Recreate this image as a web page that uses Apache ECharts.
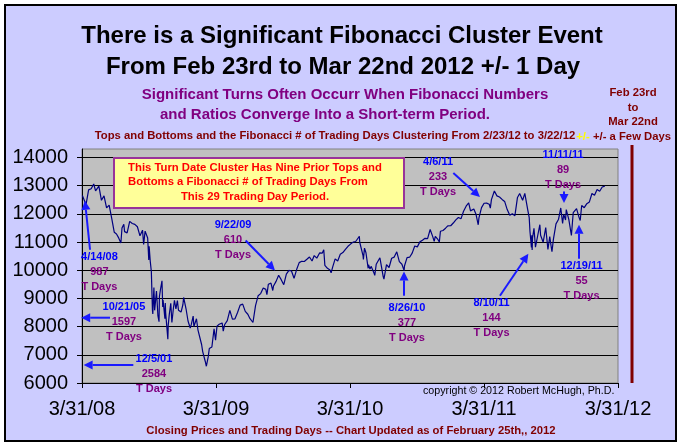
<!DOCTYPE html>
<html><head><meta charset="utf-8">
<script src="https://cdn.jsdelivr.net/npm/echarts@6/dist/echarts.min.js"></script>
<style>html,body{margin:0;padding:0;background:#fff}#c{width:682px;height:447px}</style>
</head><body><div id="c"></div>
<script>
// ---- DATA ----
const dates = [
'2008-04-01','2008-04-04','2008-04-11','2008-04-14','2008-04-18','2008-04-25','2008-05-02','2008-05-07','2008-05-09','2008-05-16','2008-05-19','2008-05-23','2008-05-30','2008-06-06','2008-06-13','2008-06-20','2008-06-27','2008-07-03','2008-07-09','2008-07-11','2008-07-15','2008-07-18','2008-07-23','2008-07-25','2008-08-01','2008-08-08','2008-08-11','2008-08-15','2008-08-22','2008-08-29','2008-09-05','2008-09-12','2008-09-15','2008-09-19','2008-09-26','2008-09-29','2008-09-30','2008-10-03','2008-10-06','2008-10-09','2008-10-10','2008-10-13','2008-10-15','2008-10-17','2008-10-20','2008-10-24','2008-10-27','2008-10-28','2008-10-31','2008-11-04','2008-11-06','2008-11-07','2008-11-12','2008-11-13','2008-11-14','2008-11-20','2008-11-21','2008-11-24','2008-11-28','2008-12-01','2008-12-05','2008-12-08','2008-12-12','2008-12-16','2008-12-19','2008-12-26','2008-12-31',
'2009-01-02','2009-01-06','2009-01-09','2009-01-14','2009-01-20','2009-01-23','2009-01-28','2009-01-30','2009-02-06','2009-02-10','2009-02-13','2009-02-20','2009-02-23','2009-02-27','2009-03-02','2009-03-05','2009-03-09','2009-03-10','2009-03-13','2009-03-20','2009-03-26','2009-03-30','2009-04-03','2009-04-09','2009-04-17','2009-04-20','2009-04-24','2009-05-01','2009-05-08','2009-05-15','2009-05-22','2009-05-29','2009-06-05','2009-06-12','2009-06-19','2009-06-26','2009-07-02','2009-07-10','2009-07-17','2009-07-24','2009-07-31','2009-08-07','2009-08-14','2009-08-17','2009-08-21','2009-08-28','2009-09-02','2009-09-04','2009-09-11','2009-09-18','2009-09-22','2009-09-25','2009-10-02','2009-10-09','2009-10-16','2009-10-23','2009-10-30','2009-11-06','2009-11-13','2009-11-20','2009-11-27','2009-12-04','2009-12-11','2009-12-18','2009-12-24','2009-12-31',
'2010-01-08','2010-01-15','2010-01-19','2010-01-22','2010-01-29','2010-02-05','2010-02-08','2010-02-12','2010-02-19','2010-02-26','2010-03-05','2010-03-12','2010-03-19','2010-03-26','2010-04-02','2010-04-09','2010-04-16','2010-04-26','2010-04-27','2010-04-30','2010-05-06','2010-05-07','2010-05-10','2010-05-14','2010-05-20','2010-05-21','2010-05-25','2010-05-28','2010-06-04','2010-06-07','2010-06-11','2010-06-21','2010-06-25','2010-06-30','2010-07-02','2010-07-09','2010-07-16','2010-07-23','2010-07-30','2010-08-06','2010-08-09','2010-08-13','2010-08-20','2010-08-26','2010-08-27','2010-09-03','2010-09-10','2010-09-17','2010-09-24','2010-10-01','2010-10-08','2010-10-15','2010-10-22','2010-10-29','2010-11-05','2010-11-12','2010-11-16','2010-11-19','2010-11-26','2010-11-30','2010-12-03','2010-12-10','2010-12-17','2010-12-23','2010-12-31',
'2011-01-07','2011-01-14','2011-01-21','2011-01-28','2011-02-04','2011-02-11','2011-02-18','2011-02-23','2011-02-25','2011-03-04','2011-03-10','2011-03-11','2011-03-16','2011-03-18','2011-03-25','2011-04-01','2011-04-08','2011-04-15','2011-04-18','2011-04-21','2011-04-29','2011-05-06','2011-05-13','2011-05-20','2011-05-27','2011-06-03','2011-06-10','2011-06-15','2011-06-17','2011-06-24','2011-07-01','2011-07-07','2011-07-08','2011-07-15','2011-07-21','2011-07-22','2011-07-29','2011-08-02','2011-08-04','2011-08-05','2011-08-08','2011-08-09','2011-08-10','2011-08-11','2011-08-15','2011-08-18','2011-08-19','2011-08-26','2011-08-31','2011-09-02','2011-09-09','2011-09-16','2011-09-22','2011-09-27','2011-09-30','2011-10-03','2011-10-07','2011-10-14','2011-10-21','2011-10-27','2011-11-01','2011-11-04','2011-11-09','2011-11-11','2011-11-18','2011-11-25','2011-11-30','2011-12-02','2011-12-09','2011-12-16','2011-12-19','2011-12-23','2011-12-30',
'2012-01-06','2012-01-13','2012-01-20','2012-01-27','2012-02-03','2012-02-10','2012-02-17','2012-02-24'
];
const closes = [
12654,12609,12325,12302,12849,12891,13058,12814,12745,12986,13028,12480,12638,12210,12308,11843,11346,11288,11147,11100,10963,11496,11632,11370,11326,11734,11782,11659,11628,11543,11220,11421,10918,11388,11143,10365,10851,10325,9955,8579,8451,9387,8577,8852,9265,8378,8175,9065,9325,9625,8695,8943,8282,8835,8497,7552,8046,8443,8829,8149,8635,8934,8629,8924,8579,8515,8776,
9034,9015,8599,8200,7949,8077,8375,8001,8280,7888,7850,7366,7114,7063,6763,6594,6547,6926,7223,7278,7924,7523,8017,8083,8131,7841,8076,8212,8575,8268,8277,8500,8764,8799,8539,8438,8280,8146,8743,9093,9171,9370,9321,9136,9505,9544,9281,9441,9605,9820,9829,9665,9487,9865,9995,9972,9713,10023,10270,10318,10310,10388,10471,10329,10520,10428,
10618,10610,10726,10172,10067,10012,9908,10099,10402,10325,10566,10625,10742,10850,10927,10997,11019,11205,10992,11009,10520,10380,10785,10620,10068,10193,10043,10137,9931,9816,10211,10442,10144,9774,9686,10198,10097,10424,10466,10654,10698,10303,10213,9985,10150,10448,10462,10607,10860,10829,11006,11062,11133,11118,11444,11192,11023,11204,11092,11006,11382,11410,11491,11573,11578,
11674,11787,11871,11823,12092,12273,12391,12106,12130,12170,11984,12044,11613,11858,12220,12376,12380,12342,12202,12505,12811,12638,12596,12512,12441,12151,11952,11897,12004,11934,12582,12719,12657,12479,12724,12681,12143,11867,11384,11445,10810,11240,10720,11144,11483,10991,10818,11285,11614,11240,10992,11510,10734,11191,10913,10655,11103,11644,11809,12209,11658,11983,11780,12153,11796,11231,12046,12019,12184,11866,11766,12294,12218,
12360,12422,12720,12660,12862,12801,12950,12983
];
const xTickLabels = ['3/31/08','3/31/09','3/31/10','3/31/11','3/31/12'];
const turnDates = ['4/14/08','10/21/05','12/5/01','9/22/09','8/26/10','4/6/11','8/10/11','11/11/11','12/19/11'];
const fibCounts = ['987','1597','2584','610','377','233','144','89','55'];

// ---- LAYOUT (data-space anchors for annotations) ----
const annLayout = [
  {at:[0.13,10480], arrow:[[0.060,10727],[0.022,12462]]},
  {at:[0.313,8681], arrow:[[0.209,8316],[-0.006,8316]]},
  {at:[0.537,6862], arrow:[[0.383,6638],[0.012,6638]]},
  {at:[1.127,11613], arrow:[[1.221,11056],[1.440,9993]]},
  {at:[2.425,8670], arrow:[[2.403,9096],[2.403,9957]]},
  {at:[2.657,13847], arrow:[[2.771,13447],[2.970,12596]]},
  {at:[3.056,8847], arrow:[[3.119,9096],[3.331,10585]]},
  {at:[3.590,14096], arrow:[[3.597,12794],[3.597,12383]]},
  {at:[3.728,10159], arrow:[[3.709,10408],[3.709,11613]]}
];

const t0 = Date.UTC(2008,2,31);
const yrs = d => (Date.parse(d) - t0) / 864e5 / 365.25;
const seriesData = dates.map((d,i) => [yrs(d), closes[i]]);
const FF = '"Liberation Sans", Arial, sans-serif';

const chart = echarts.init(document.getElementById('c'));
chart.setOption({
  animation:false,
  backgroundColor:'#ffffff',
  grid:{left:82,right:64,top:149,bottom:64,show:true,backgroundColor:'#C0C0C0',borderColor:'#808080',borderWidth:1},
  xAxis:{type:'value',min:0,max:4,interval:1,
    axisLine:{show:true,lineStyle:{color:'#000',width:1}},
    axisTick:{show:true,length:5,lineStyle:{color:'#000'}},
    splitLine:{show:false},
    axisLabel:{margin:16,color:'#000',fontSize:20,fontFamily:FF,formatter:(v)=>xTickLabels[Math.round(v)]||''}},
  yAxis:{type:'value',min:6000,max:14300,interval:1000,
    axisLine:{show:true,lineStyle:{color:'#000',width:1}},
    axisTick:{show:true,length:5,lineStyle:{color:'#000'}},
    splitLine:{show:true,showMaxLine:false,lineStyle:{color:'#000',width:1}},
    axisLabel:{margin:14,color:'#000',fontSize:20,fontFamily:FF,showMaxLabel:false,
      formatter:(v)=> (v%1000===0? String(v):'')}},
  series:[{type:'line',data:seriesData,showSymbol:false,symbol:'none',clip:false,
    lineStyle:{color:'#000080',width:1.2}}]
});

function txt(text,x,y,fill,font,align){
  return {type:'text',z:100,style:{text:text,x:x,y:y,fill:fill,font:font,textAlign:align||'center',textVerticalAlign:'middle',verticalAlign:'middle'}};
}
function arrow(p1,p2,color){
  const dx=p2[0]-p1[0], dy=p2[1]-p1[1], L=Math.hypot(dx,dy)||1;
  const ux=dx/L, uy=dy/L, hl=9, hw=4.5;
  const bx=p2[0]-ux*hl, by=p2[1]-uy*hl;
  return [
    {type:'line',z:90,shape:{x1:p1[0],y1:p1[1],x2:bx,y2:by},style:{stroke:color,lineWidth:2}},
    {type:'polygon',z:90,shape:{points:[[p2[0],p2[1]],[bx-uy*hw,by+ux*hw],[bx+uy*hw,by-ux*hw]]},style:{fill:color}}
  ];
}
const g = [];
g.push({type:'rect',z:-100,shape:{x:5,y:5,width:671,height:436},style:{fill:'#CCCCFF',stroke:'#000',lineWidth:2}});
const BF = 'bold 24px '+FF;
g.push(txt('There is a Significant Fibonacci Cluster Event',342,36,'#000',BF));
g.push(txt('From Feb 23rd to Mar 22nd 2012 +/- 1 Day',343,67,'#000',BF));
g.push(txt('Significant Turns Often Occurr When Fibonacci Numbers',345,95,'#800080','bold 15px '+FF));
g.push(txt('and Ratios Converge Into a Short-term Period.',325,115,'#800080','bold 15px '+FF));
const SF = 'bold 11.3px '+FF;
g.push(txt('Tops and Bottoms and the Fibonacci # of Trading Days Clustering From 2/23/12 to 3/22/12',335,136,'#800000',SF));
g.push(txt('+/-',583,137,'#FFFF00',SF));
g.push(txt('Feb 23rd',633,93,'#800000',SF));
g.push(txt('to',633,108,'#800000',SF));
g.push(txt('Mar 22nd',633,122,'#800000',SF));
g.push(txt('+/- a Few Days',632,137,'#800000',SF));
g.push({type:'line',z:50,shape:{x1:632,y1:145,x2:632,y2:383},style:{stroke:'#800000',lineWidth:3}});
g.push({type:'rect',z:60,shape:{x:114,y:158,width:290,height:50},style:{fill:'#FFFF99',stroke:'#993399',lineWidth:2}});
g.push(txt('This Turn Date Cluster Has Nine Prior Tops and',255,168,'#FF0000',SF));
g.push(txt('Bottoms a Fibonacci # of Trading Days From',248,182,'#FF0000',SF));
g.push(txt('This 29 Trading Day Period.',255,197,'#FF0000',SF));
g.push(txt('copyright \u00A9 2012 Robert McHugh, Ph.D.',423,391,'#000','10.7px '+FF,'left'));
g.push(txt('Closing Prices and Trading Days -- Chart Updated as of February 25th,, 2012',351,431,'#800000',SF));
const AF = 'bold 11px '+FF;
annLayout.forEach((a,i)=>{
  const p = chart.convertToPixel({gridIndex:0}, a.at);
  g.push(txt(turnDates[i],p[0],p[1],'#0000FF',AF));
  g.push(txt(fibCounts[i],p[0],p[1]+15,'#800080',AF));
  g.push(txt('T Days',p[0],p[1]+30,'#800080',AF));
  const q1 = chart.convertToPixel({gridIndex:0}, a.arrow[0]);
  const q2 = chart.convertToPixel({gridIndex:0}, a.arrow[1]);
  arrow(q1,q2,'#1A1AFF').forEach(e=>g.push(e));
});
chart.setOption({graphic:{elements:g}});
</script>
</body></html>
